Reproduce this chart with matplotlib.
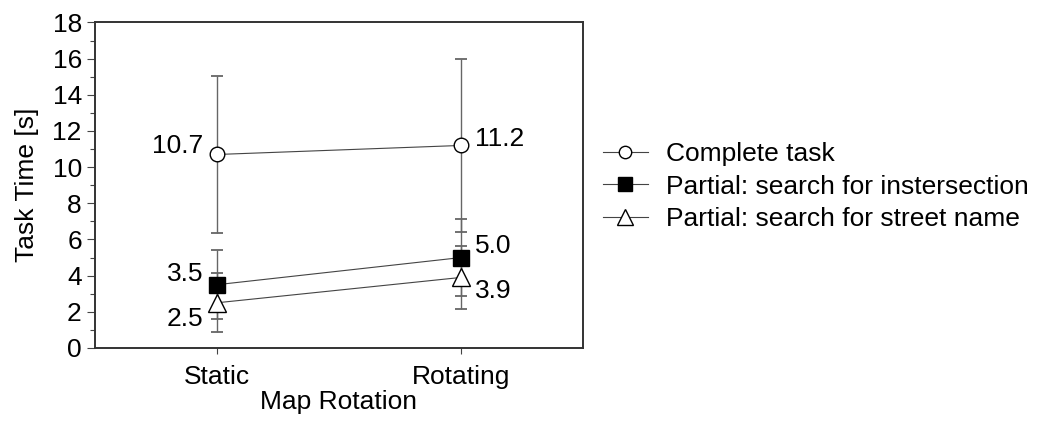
import matplotlib
matplotlib.use("Agg")
from matplotlib import pyplot as plt
from matplotlib.ticker import MultipleLocator

plt.rcParams['font.family'] = ['Liberation Sans', 'DejaVu Sans']

conditions = ["Static", "Rotating"]
complete_mean = [10.7, 11.2]
complete_err = [4.33, 4.8]
intersection_mean = [3.5, 5.0]
intersection_err = [1.92, 2.12]
street_mean = [2.5, 3.9]
street_err = [1.62, 1.75]
series_labels = ["Complete task",
                 "Partial: search for instersection",
                 "Partial: search for street name"]

if __name__ == '__main__':

    fig = plt.figure(figsize=(10.47, 4.21), dpi=100)
    ax = fig.add_axes([0.0907, 0.1734, 0.4658, 0.7732])

    x = list(range(len(conditions)))
    fs = 19

    styles = [
        (complete_mean, complete_err, 'o', 'white', 10.5),
        (intersection_mean, intersection_err, 's', 'black', 12),
        (street_mean, street_err, '^', 'white', 13.5),
    ]
    for (mean, err, mk, fc, ms), lab in zip(styles, series_labels):
        ax.errorbar(x, mean, yerr=err, fmt='none', ecolor='#666666',
                    elinewidth=1.0, capsize=4, capthick=1.3, zorder=2)
        ax.plot(x, mean, color='#444444', lw=0.8, marker=mk, ms=ms,
                mfc=fc, mec='black', mew=1.0, label=lab, zorder=3)

    # value labels (left for Static, right for Rotating)
    offsets = [
        [(-10, 6), (10, 5)],
        [(-10, 8), (10, 8)],
        [(-10, -12), (10, -10)],
    ]
    for (mean, _, _, _, _), offs in zip(styles, offsets):
        for i, v in enumerate(mean):
            dx, dy = offs[i]
            ax.annotate(f"{v:.1f}", (x[i], v), xytext=(dx, dy),
                        textcoords='offset points', fontsize=fs,
                        ha='right' if dx < 0 else 'left', va='center')

    ax.set_xlim(-0.5, 1.5)
    ax.set_ylim(0, 18)
    ax.set_xticks(x)
    ax.set_xticklabels(conditions)
    ax.yaxis.set_major_locator(MultipleLocator(2))
    ax.yaxis.set_minor_locator(MultipleLocator(1))
    ax.tick_params(axis='both', which='major', labelsize=fs, direction='out',
                   length=6, width=0.8, color='#444444')
    ax.tick_params(axis='y', which='minor', direction='out', length=3.5,
                   width=0.8, color='#444444')
    ax.tick_params(axis='x', which='major', length=4, pad=8)
    for s in ax.spines.values():
        s.set_linewidth(1.4)
        s.set_color('#333333')

    ax.set_xlabel("Map Rotation", fontsize=fs, labelpad=1)
    ax.set_ylabel("Task Time [s]", fontsize=fs, labelpad=10)

    ax.legend(loc='upper left', bbox_to_anchor=(1.02, 0.665), frameon=False,
              fontsize=fs, handlelength=1.7, handletextpad=0.7,
              labelspacing=0.32, borderaxespad=0, markerscale=0.85)

    fig.savefig("out.png", dpi=100)
